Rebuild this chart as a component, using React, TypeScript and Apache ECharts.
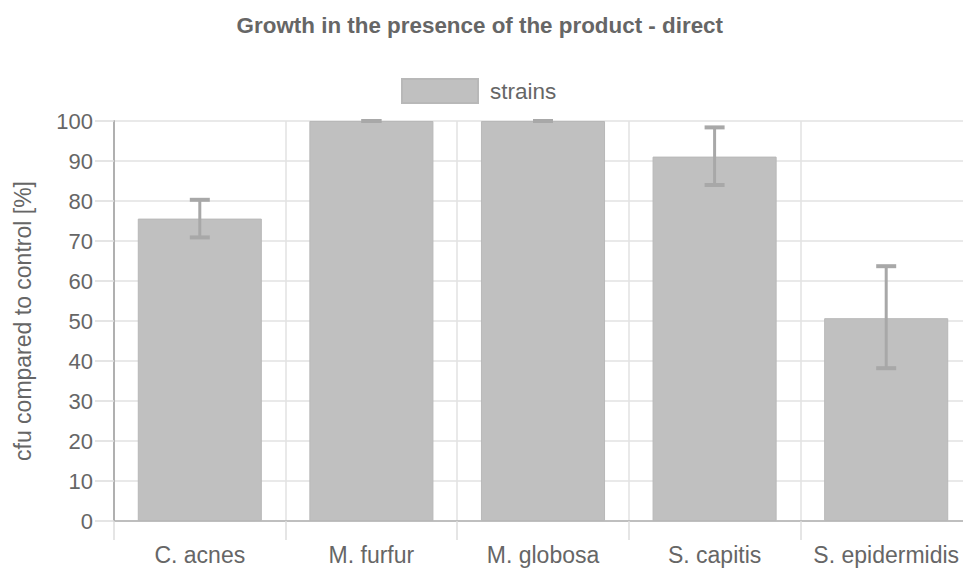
import React, { useEffect, useRef } from "react";
import * as echarts from "echarts";

const titleText = "Growth in the presence of the product - direct";
const seriesName = "strains";
const yAxisName = "cfu compared to control [%]";
const categories = ["C. acnes", "M. furfur", "M. globosa", "S. capitis", "S. epidermidis"];
const values = [75.6, 100, 100, 91.1, 50.7];
const errLow = [70.9, 100, 100, 84.0, 38.2];
const errHigh = [80.3, 100, 100, 98.4, 63.7];

const FONT = "'Liberation Sans', Arial, sans-serif";
const TEXT = "#666666";

export default function App() {
  const ref = useRef<HTMLDivElement>(null);
  useEffect(() => {
    if (!ref.current) return;
    const chart = echarts.init(ref.current, undefined, { renderer: "svg" });
    const errData = categories.map((_, i) => [i, errLow[i], errHigh[i]]);
    chart.setOption({
      animation: false,
      backgroundColor: "#ffffff",
      textStyle: { fontFamily: FONT },
      title: {
        text: titleText,
        right: 244,
        top: 9,
        textStyle: { fontFamily: FONT, fontSize: 22.4, fontWeight: "bold", color: TEXT },
      },
      legend: {
        top: 78,
        left: 401,
        padding: 0,
        itemWidth: 76,
        itemHeight: 24,
        icon: "rect",
        data: [seriesName],
        textStyle: { fontFamily: FONT, fontSize: 22.5, color: TEXT, padding: [0, 0, 0, 7] },
      },
      grid: { left: 114, right: 0, top: 121, bottom: 47, containLabel: false },
      xAxis: {
        type: "category",
        data: categories,
        boundaryGap: true,
        axisLine: { show: true, lineStyle: { color: "#b0b0b0", width: 1.5 } },
        axisTick: { show: true, interval: 0, length: 19, lineStyle: { color: "#dddddd", width: 1.5 } },
        splitLine: { show: true, interval: 0, lineStyle: { color: "#e2e2e2", width: 1.5 } },
        axisLabel: { interval: 0, fontFamily: FONT, fontSize: 23, color: TEXT, margin: 22 },
      },
      yAxis: {
        type: "value",
        min: 0,
        max: 100,
        interval: 10,
        name: yAxisName,
        nameLocation: "middle",
        nameGap: 80,
        nameTextStyle: { fontFamily: FONT, fontSize: 23, color: TEXT },
        axisLine: { show: true, lineStyle: { color: "#b0b0b0", width: 2 } },
        axisTick: { show: true, length: 19, lineStyle: { color: "#dddddd", width: 1.5 } },
        splitLine: { show: true, lineStyle: { color: "#e2e2e2", width: 1.5 } },
        axisLabel: { fontFamily: FONT, fontSize: 22, color: TEXT, margin: 21 },
      },
      series: [
        {
          name: seriesName,
          type: "bar",
          data: values,
          barWidth: "72.3%",
          itemStyle: { color: "#c0c0c0", borderColor: "#b8b8b8", borderWidth: 1 },
        },
        {
          type: "custom",
          name: "error",
          data: errData,
          encode: { x: 0, y: [1, 2] },
          z: 5,
          renderItem: (params: any, api: any) => {
            const x = api.value(0);
            const pLow = api.coord([x, api.value(1)]);
            const pHigh = api.coord([x, api.value(2)]);
            const hw = 10;
            const style = { stroke: "#a8a8a8", lineWidth: 3 };
            return {
              type: "group",
              children: [
                { type: "line", shape: { x1: pLow[0], y1: pLow[1], x2: pHigh[0], y2: pHigh[1] }, style },
                { type: "line", shape: { x1: pHigh[0] - hw, y1: pHigh[1], x2: pHigh[0] + hw, y2: pHigh[1] }, style: { ...style, lineWidth: 4 } },
                { type: "line", shape: { x1: pLow[0] - hw, y1: pLow[1], x2: pLow[0] + hw, y2: pLow[1] }, style: { ...style, lineWidth: 4 } },
              ],
            };
          },
        },
      ],
    });
    return () => chart.dispose();
  }, []);
  return (
    <div
      ref={ref}
      style={{ position: "fixed", left: 0, top: 0, width: 972, height: 568, background: "#fff" }}
    />
  );
}
